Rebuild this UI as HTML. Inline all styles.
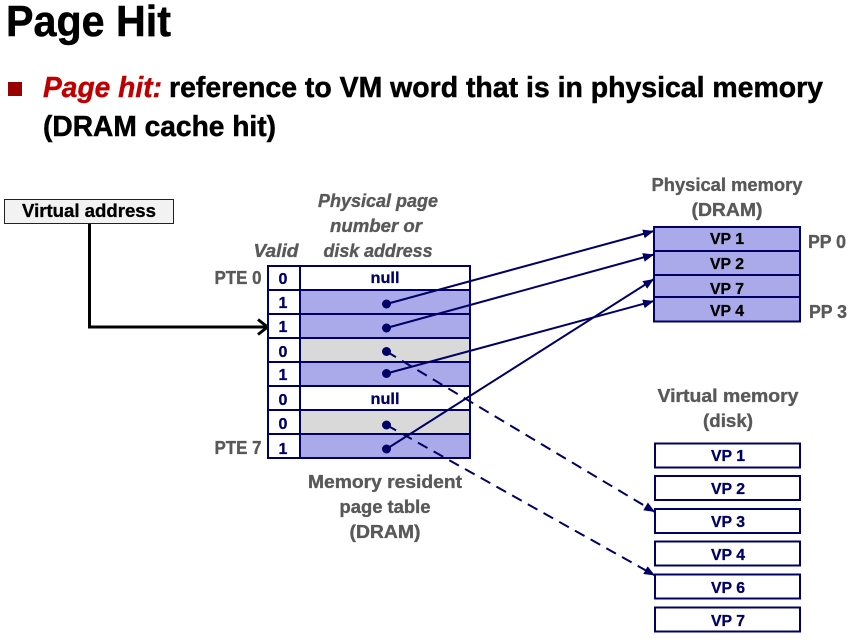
<!DOCTYPE html>
<html><head><meta charset="utf-8"><style>
html,body{margin:0;padding:0;background:#fff;width:856px;height:640px;overflow:hidden}
svg{display:block}
text{font-family:"Liberation Sans",sans-serif;font-weight:700}
.g{fill:#595959;stroke:#595959;stroke-width:.35;font-size:18px;text-anchor:middle}
.gi{fill:#595959;stroke:#595959;stroke-width:.35;font-size:18px;text-anchor:middle;font-style:italic}
.n{fill:#000066;stroke:#000066;stroke-width:.3;font-size:16px;text-anchor:middle}
.k{fill:#000;stroke:#000;stroke-width:.3;font-size:16px;text-anchor:middle}
.t{stroke:#000;stroke-width:.5}
.b{fill:#000066;stroke:none}
</style></head><body>
<svg width="856" height="640" viewBox="0 0 856 640" xmlns="http://www.w3.org/2000/svg">
<defs>
<marker id="a" markerUnits="userSpaceOnUse" markerWidth="12" markerHeight="10" refX="11" refY="4.500" orient="auto"><path d="M0 0L11 4.500L0 9Z" fill="#000066"/></marker>
</defs>
<text class="t" x="6" y="36" font-size="44" textLength="165" lengthAdjust="spacingAndGlyphs" fill="#000">Page Hit</text>
<rect x="8" y="82" width="14" height="14" fill="#990000"/>
<text x="43" y="97" font-size="29" textLength="119" lengthAdjust="spacingAndGlyphs" fill="#c00000" stroke="#c00000" stroke-width=".4" font-style="italic">Page hit:</text>
<text class="t" x="169" y="97" font-size="29" textLength="654" lengthAdjust="spacingAndGlyphs" fill="#000">reference to VM word that is in physical memory</text>
<text class="t" x="43" y="136" font-size="29" textLength="233" lengthAdjust="spacingAndGlyphs" fill="#000">(DRAM cache hit)</text>

<rect x="4.500" y="199.500" width="169" height="24" fill="#f2f2f2" stroke="#222" stroke-width="1"/>
<text class="k" x="89" y="217" font-size="18" style="font-size:18px" textLength="134" lengthAdjust="spacingAndGlyphs">Virtual address</text>
<path d="M89.500 224V327H267" fill="none" stroke="#000" stroke-width="3"/>
<path d="M258 319.500L267.500 327L258 334.500" fill="none" stroke="#000" stroke-width="3"/>

<text class="gi" x="378" y="207" textLength="120" lengthAdjust="spacingAndGlyphs">Physical page</text>
<text class="gi" x="376" y="232" textLength="92" lengthAdjust="spacingAndGlyphs">number or</text>
<text class="gi" x="378" y="257" textLength="109" lengthAdjust="spacingAndGlyphs">disk address</text>
<text class="gi" x="276" y="257" textLength="45" lengthAdjust="spacingAndGlyphs">Valid</text>
<text class="g" x="238" y="284" textLength="47" lengthAdjust="spacingAndGlyphs">PTE 0</text>
<text class="g" x="238" y="454" textLength="47" lengthAdjust="spacingAndGlyphs">PTE 7</text>

<g stroke="#000066" stroke-width="2">
<rect x="300" y="266" width="170" height="24" fill="#fff"/>
<rect x="300" y="290" width="170" height="24" fill="#aaaaea"/>
<rect x="300" y="314" width="170" height="24" fill="#aaaaea"/>
<rect x="300" y="338" width="170" height="24" fill="#d9d9d9"/>
<rect x="300" y="362" width="170" height="24" fill="#aaaaea"/>
<rect x="300" y="386" width="170" height="24" fill="#fff"/>
<rect x="300" y="410" width="170" height="24" fill="#d9d9d9"/>
<rect x="300" y="434" width="170" height="24" fill="#aaaaea"/>
<rect x="268" y="266" width="32" height="24" fill="#fff"/>
<rect x="268" y="290" width="32" height="24" fill="#fff"/>
<rect x="268" y="314" width="32" height="24" fill="#fff"/>
<rect x="268" y="338" width="32" height="24" fill="#fff"/>
<rect x="268" y="362" width="32" height="24" fill="#fff"/>
<rect x="268" y="386" width="32" height="24" fill="#fff"/>
<rect x="268" y="410" width="32" height="24" fill="#fff"/>
<rect x="268" y="434" width="32" height="24" fill="#fff"/>
</g>
<text class="n" x="283" y="284">0</text>
<text class="n" x="283" y="308">1</text>
<text class="n" x="283" y="332">1</text>
<text class="n" x="283" y="357">0</text>
<text class="n" x="283" y="380">1</text>
<text class="n" x="283" y="405">0</text>
<text class="n" x="283" y="429">0</text>
<text class="n" x="283" y="454">1</text>
<text class="n" x="385" y="283" textLength="29" lengthAdjust="spacingAndGlyphs">null</text>
<text class="n" x="385" y="404" textLength="29" lengthAdjust="spacingAndGlyphs">null</text>

<text class="g" x="385" y="488" textLength="154" lengthAdjust="spacingAndGlyphs">Memory resident</text>
<text class="g" x="385" y="513" textLength="91" lengthAdjust="spacingAndGlyphs">page table</text>
<text class="g" x="385" y="538" textLength="71" lengthAdjust="spacingAndGlyphs">(DRAM)</text>

<text class="g" x="727" y="191" textLength="151" lengthAdjust="spacingAndGlyphs">Physical memory</text>
<text class="g" x="727" y="216" textLength="71" lengthAdjust="spacingAndGlyphs">(DRAM)</text>
<g stroke="#000066" stroke-width="2" fill="#aaaaea">
<rect x="654" y="227" width="146" height="24"/>
<rect x="654" y="251" width="146" height="24"/>
<rect x="654" y="275" width="146" height="22"/>
<rect x="654" y="297" width="146" height="24.500"/>
</g>
<text class="k" x="727" y="244" textLength="34" lengthAdjust="spacingAndGlyphs">VP 1</text>
<text class="k" x="727" y="269" textLength="34" lengthAdjust="spacingAndGlyphs">VP 2</text>
<text class="k" x="727" y="294" textLength="34" lengthAdjust="spacingAndGlyphs">VP 7</text>
<text class="k" x="727" y="316" textLength="34" lengthAdjust="spacingAndGlyphs">VP 4</text>
<text class="g" x="827" y="248" textLength="38" lengthAdjust="spacingAndGlyphs">PP 0</text>
<text class="g" x="828" y="318" textLength="38" lengthAdjust="spacingAndGlyphs">PP 3</text>

<text class="g" x="728" y="402" textLength="141" lengthAdjust="spacingAndGlyphs">Virtual memory</text>
<text class="g" x="728" y="427" textLength="50" lengthAdjust="spacingAndGlyphs">(disk)</text>
<g stroke="#000066" stroke-width="2" fill="#fff">
<rect x="655" y="443.500" width="145" height="24"/>
<rect x="655" y="476" width="145" height="24"/>
<rect x="655" y="509" width="145" height="24"/>
<rect x="655" y="541.500" width="145" height="24"/>
<rect x="655" y="574.500" width="145" height="24"/>
<rect x="655" y="607.500" width="145" height="24"/>
</g>
<text class="n" x="728" y="461" textLength="34" lengthAdjust="spacingAndGlyphs">VP 1</text>
<text class="n" x="728" y="494" textLength="34" lengthAdjust="spacingAndGlyphs">VP 2</text>
<text class="n" x="728" y="527" textLength="34" lengthAdjust="spacingAndGlyphs">VP 3</text>
<text class="n" x="728" y="560" textLength="34" lengthAdjust="spacingAndGlyphs">VP 4</text>
<text class="n" x="728" y="593" textLength="34" lengthAdjust="spacingAndGlyphs">VP 6</text>
<text class="n" x="728" y="626" textLength="34" lengthAdjust="spacingAndGlyphs">VP 7</text>

<g stroke="#000066" stroke-width="2" fill="none">
<line x1="386.500" y1="304" x2="654" y2="231" marker-end="url(#a)"/>
<line x1="386.500" y1="328" x2="654" y2="254.500" marker-end="url(#a)"/>
<line x1="386.500" y1="373.500" x2="654" y2="301" marker-end="url(#a)"/>
<line x1="386.500" y1="449" x2="654" y2="279" marker-end="url(#a)"/>
<line x1="386.500" y1="351.500" x2="655" y2="512" stroke-dasharray="11 7" marker-end="url(#a)"/>
<line x1="386.500" y1="425" x2="655" y2="575.500" stroke-dasharray="11 7" marker-end="url(#a)"/>
</g>
<g class="b">
<circle cx="386.500" cy="304" r="4.500"/>
<circle cx="386.500" cy="328" r="4.500"/>
<circle cx="386.500" cy="351.500" r="4.500"/>
<circle cx="386.500" cy="373.500" r="4.500"/>
<circle cx="386.500" cy="425" r="4.500"/>
<circle cx="386.500" cy="449" r="4.500"/>
</g>
</svg>
</body></html>
